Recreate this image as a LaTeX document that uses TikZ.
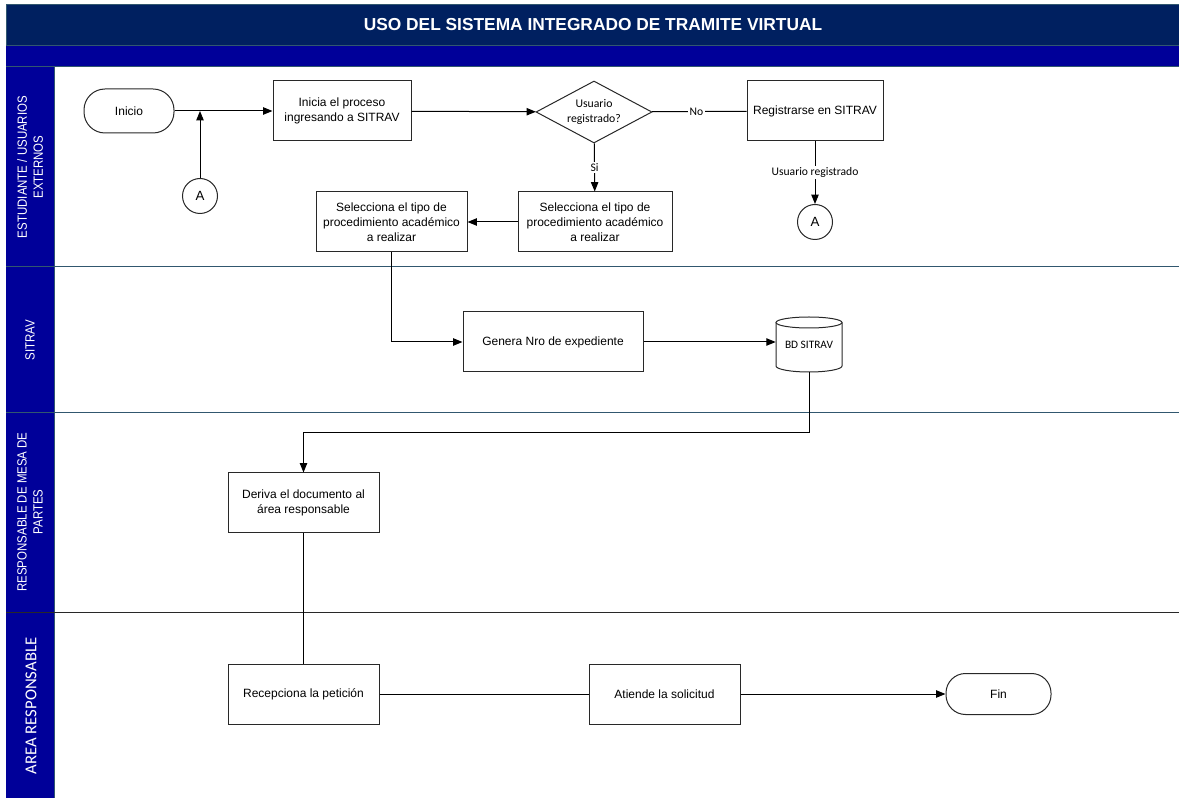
\documentclass[tikz,border=0pt]{standalone}
\usepackage{fontspec}
\setmainfont{Liberation Sans}
\newfontfamily\carl{Carlito}
\newfontfamily\narrowfont[FakeStretch=0.86]{Liberation Sans}
\usetikzlibrary{shapes.geometric,arrows.meta}
\definecolor{titlecol}{RGB}{0,32,96}
\definecolor{bandcol}{RGB}{0,0,153}
\definecolor{lanecol}{RGB}{49,87,111}
\definecolor{edgecol}{RGB}{40,40,40}
\begin{document}
\begin{tikzpicture}[x=0.75pt,y=-0.75pt,
  sz/.style 2 args={minimum width=#1*0.75pt,minimum height=#2*0.75pt},
  proc/.style={draw=edgecol,line width=0.75pt,fill=white,inner sep=0pt,align=center,font=\fontsize{9}{11.3}\selectfont},
  conn/.style={circle,draw=edgecol,line width=0.75pt,fill=white,inner sep=0pt,minimum size=35*0.75pt,font=\fontsize{10}{12}\selectfont},
  decis/.style={diamond,draw=edgecol,line width=0.75pt,fill=white,inner sep=0pt,aspect=1.87,align=center,font=\carl\fontsize{8.8}{11}\selectfont},
  link/.style={draw=black,line width=0.75pt},
  arr/.style={link,-{Triangle[length=7pt,width=5.5pt]}},
  lbl/.style={fill=white,inner sep=1pt,font=\carl\fontsize{8.7}{10}\selectfont},
  lanelbl/.style={rotate=90,text=white,align=center,font=\narrowfont\fontsize{10}{12}\selectfont},
  laneline/.style={draw=lanecol,line width=0.75pt}
]
\useasboundingbox (0,0) rectangle (1179,798);
\fill[white] (0,0) rectangle (1179,798);
% header
\fill[titlecol] (6,5) rectangle (1179,45);
\draw[laneline] (6,798) -- (6,5) -- (1179,5);
\fill[bandcol] (6,46) rectangle (1179,66);
\draw[laneline] (6,45.5) -- (1179,45.5);
\draw[laneline] (6,66.5) -- (1179,66.5);
\node[text=white,font=\bfseries\fontsize{13}{15}\selectfont] (title) at (593,25) {USO DEL SISTEMA INTEGRADO DE TRAMITE VIRTUAL};
% lane column
\fill[bandcol] (6,67) rectangle (54,798);
\draw[laneline] (54,67) -- (54,798);
\draw[laneline] (6,267) -- (1179,267);
\draw[laneline] (6,413) -- (1179,413);
\draw[draw=edgecol,line width=0.75pt] (6,612) -- (1179,612);
\node[lanelbl] (l1) at (30,167) {ESTUDIANTE / USUARIOS\\EXTERNOS};
\node[lanelbl] (l2) at (30,340) {SITRAV};
\node[lanelbl] (l3) at (30,512) {RESPONSABLE DE MESA DE\\PARTES};
\node[rotate=90,text=white,font=\carl\fontsize{12.5}{14}\selectfont] (l4) at (31,706) {AREA RESPONSABLE};
% nodes
\node[proc,sz={90}{44},rounded corners=21*0.75pt] (inicio) at (129,111) {Inicio};
\node[proc,sz={138}{60}] (inicia) at (342,111) {Inicia el proceso\\ingresando a SITRAV};
\node[decis,sz={116}{62}] (dec) at (594,112) {Usuario\\registrado?};
\node[proc,sz={136}{60}] (reg) at (815,111) {Registrarse en SITRAV};
\node[conn] (a1) at (200,196) {A};
\node[conn] (a2) at (815,222) {A};
\node[proc,sz={154}{60}] (sel2) at (595,222) {Selecciona el tipo de\\procedimiento académico\\a realizar};
\node[proc,sz={151}{60}] (sel1) at (391.5,222) {Selecciona el tipo de\\procedimiento académico\\a realizar};
\node[proc,sz={180}{60}] (genera) at (553,342) {Genera Nro de expediente};
% database cylinder
\node[inner sep=0pt,sz={66}{55}] (bd) at (809,344.5) {};
\draw[draw=edgecol,line width=0.75pt,fill=white] (776,322.5) -- (776,366)
  .. controls (776,369.3) and (790.8,372) .. (809,372)
  .. controls (827.2,372) and (842,369.3) .. (842,366) -- (842,322.5);
\draw[draw=edgecol,line width=0.75pt,fill=white] (809,322.5) ellipse [x radius=33, y radius=5.5];
\node[font=\carl\fontsize{8.5}{10}\selectfont] (bdt) at (809,345) {BD SITRAV};
\node[proc,sz={151}{60}] (deriva) at (303.5,503) {Deriva el documento al\\área responsable};
\node[proc,sz={151}{60}] (recep) at (303.5,694) {Recepciona la petición};
\node[proc,sz={151}{60}] (atiende) at (664.5,694) {Atiende la solicitud};
\node[proc,sz={105}{41},rounded corners=19.5*0.75pt] (fin) at (998.5,694) {Fin};
\coordinate (j1) at (200,111);
\coordinate (j2) at (809,433);
% connectors
\draw[arr] (inicio) -- (inicia);
\draw[arr] (a1) -- (j1);
\draw[arr] (inicia) -- (dec);
\draw[link] (dec) -- node[lbl,pos=0.47] {No} (reg);
\draw[arr] (dec) -- node[lbl] {Si} (sel2);
\draw[arr] (reg) -- node[lbl] {Usuario registrado} (a2);
\draw[arr] (sel2) -- (sel1);
\draw[arr] (sel1.south) |- (genera.west);
\draw[arr] (genera.east) -- (genera.east -| bd.west);
\draw[arr] (bd.south) -- (j2) -| (deriva.north);
\draw[link] (deriva) -- (recep);
\draw[link] (recep) -- (atiende);
\draw[arr] (atiende) -- (fin);
\end{tikzpicture}
\end{document}
